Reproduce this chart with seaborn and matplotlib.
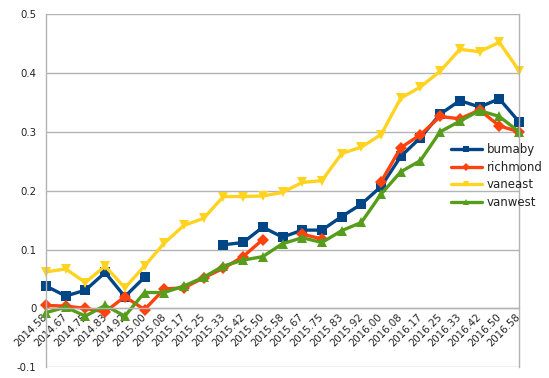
import numpy as np
import pandas as pd
import matplotlib.pyplot as plt
import seaborn as sns

nan = np.nan

periods = ['2014.58', '2014.67', '2014.75', '2014.83', '2014.92', '2015.00',
           '2015.08', '2015.17', '2015.25', '2015.33', '2015.42', '2015.50',
           '2015.58', '2015.67', '2015.75', '2015.83', '2015.92', '2016.00',
           '2016.08', '2016.17', '2016.25', '2016.33', '2016.42', '2016.50',
           '2016.58']

bumaby = [0.038, 0.021, 0.031, 0.061, 0.020, 0.053, nan, nan, nan,
          0.108, 0.112, 0.138, 0.121, 0.133, 0.133, 0.156, 0.177, 0.207,
          0.258, 0.290, 0.330, 0.353, 0.342, 0.356, 0.317]
richmond = [0.005, 0.004, 0.000, -0.006, 0.020, -0.002, 0.033, 0.035, 0.052,
            0.068, 0.088, 0.117, nan, 0.126, 0.118, nan, nan, 0.215,
            0.273, 0.295, 0.326, 0.322, 0.337, 0.310, 0.300]
vaneast = [0.062, 0.067, 0.044, 0.072, 0.035, 0.072, 0.111, 0.141, 0.153,
           0.190, 0.190, 0.191, 0.197, 0.214, 0.217, 0.263, 0.274, 0.295,
           0.357, 0.376, 0.403, 0.440, 0.436, 0.452, 0.404]
vanwest = [-0.007, 0.002, -0.013, 0.005, -0.013, 0.027, 0.027, 0.038, 0.053,
           0.072, 0.082, 0.088, 0.110, 0.120, 0.112, 0.132, 0.146, 0.194,
           0.232, 0.251, 0.300, 0.318, 0.336, 0.326, 0.300]

yticks = [-0.1, 0, 0.1, 0.2, 0.3, 0.4, 0.5]
ytick_labels = ['-0.1', '0', '0.1', '0.2', '0.3', '0.4', '0.5']

series = {'bumaby': bumaby, 'richmond': richmond,
          'vaneast': vaneast, 'vanwest': vanwest}
colors = {'bumaby': '#004586', 'richmond': '#ff420e',
          'vaneast': '#ffd320', 'vanwest': '#579d1c'}
marks = {'bumaby': 's', 'richmond': 'D', 'vaneast': 'v', 'vanwest': '^'}

# long form, with a segment id so gaps stay gaps
rows = []
for name, vals in series.items():
    seg = 0
    for i, v in enumerate(vals):
        if np.isnan(v):
            seg += 1
            continue
        rows.append({'pos': i, 'value': v, 'area': name, 'seg': seg})
df = pd.DataFrame(rows)

sns.set_style('white')
plt.rcParams['font.family'] = ['DejaVu Sans']

fig = plt.figure(figsize=(5.49, 3.78), dpi=100)
ax = fig.add_axes([46 / 549, 1 - 367.3 / 378, 473 / 549, (367.3 - 14) / 378])

sns.lineplot(data=df, x='pos', y='value', hue='area', style='area',
             units='seg', estimator=None, markers=marks, dashes=False,
             palette=colors, linewidth=2.4, markersize=6.5,
             markeredgewidth=0, clip_on=False, ax=ax)

ax.set_xlim(0, len(periods) - 1)
ax.set_ylim(-0.1, 0.5)
ax.set_xlabel('')
ax.set_ylabel('')

grid_c = '#b3b3b3'
ax.yaxis.grid(True, color=grid_c, linewidth=1)
ax.xaxis.grid(False)
ax.set_axisbelow(True)
ax.spines['bottom'].set_position(('data', 0))
ax.spines['top'].set_visible(False)
for s in ['bottom', 'left', 'right']:
    ax.spines[s].set_color(grid_c)
    ax.spines[s].set_linewidth(1)
ax.tick_params(axis='both', colors=grid_c, labelcolor='#222222',
               labelsize=7.3, length=3, width=1)
ax.tick_params(axis='x', pad=2)
ax.tick_params(axis='y', pad=4)

ax.set_xticks(range(len(periods)))
ax.set_xticklabels(periods)
ax.set_yticks(yticks)
ax.set_yticklabels(ytick_labels)
plt.setp(ax.get_xticklabels(), rotation=45, ha='right', va='center',
         rotation_mode='anchor')

handles, labels = ax.get_legend_handles_labels()
leg = ax.legend(handles, labels, loc='upper left', frameon=False,
                bbox_to_anchor=(451 / 549, 1 - 143 / 378),
                bbox_transform=fig.transFigure, fontsize=8.5,
                markerscale=0.6, handlelength=2.6, handletextpad=0.4,
                labelspacing=0.4, borderaxespad=0, borderpad=0)
for t in leg.get_texts():
    t.set_color('#222222')

fig.savefig('out.png', dpi=100)
